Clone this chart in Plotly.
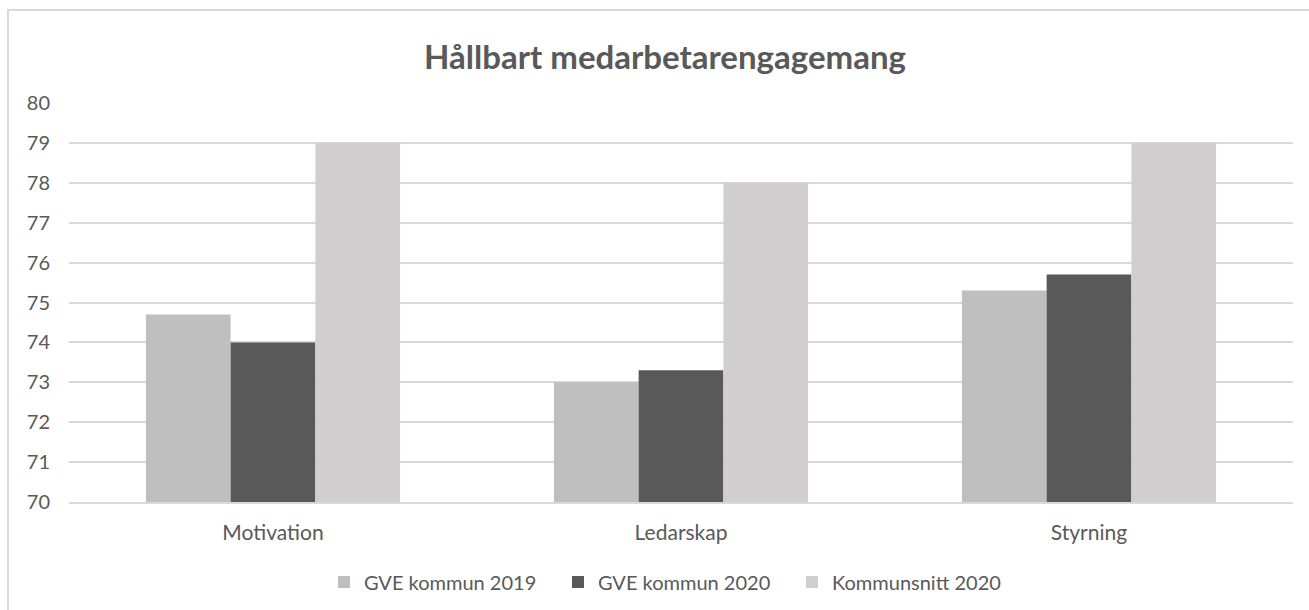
import plotly.graph_objects as go

categories = ["Motivation", "Ledarskap", "Styrning"]
series_names = ["GVE kommun 2019", "GVE kommun 2020", "Kommunsnitt 2020"]
gve_2019 = [74.7, 73.0, 75.3]
gve_2020 = [74.0, 73.3, 75.7]
kommunsnitt_2020 = [79.0, 78.0, 79.0]
y_ticks = list(range(70, 81))

colors = ["#bfbfbf", "#595959", "#d0cece"]
font_family = "Lato, Open Sans, sans-serif"
text_color = "#595959"

fig = go.Figure()
for name, vals, col in zip(series_names, [gve_2019, gve_2020, kommunsnitt_2020], colors):
    fig.add_trace(go.Bar(
        x=categories, y=vals, name=name,
        marker=dict(color=col, line=dict(width=0)),
        base=0,
    ))

W, H = 1309, 610
L, R, T, B = 69, 16, 103, 108
pw, ph = W - L - R, H - T - B

def px_x(p):
    return (p - L) / pw

def px_y(p):
    return (H - B - p) / ph

# outer chart frame (top and left edges visible)
fig.add_shape(type="rect", xref="paper", yref="paper",
              x0=px_x(8), x1=px_x(1330), y0=px_y(640), y1=px_y(10),
              line=dict(color="#d9d9d9", width=2), fillcolor="rgba(0,0,0,0)", layer="below")

fig.update_layout(
    width=W, height=H,
    margin=dict(l=L, r=R, t=T, b=B, autoexpand=False),
    paper_bgcolor="white", plot_bgcolor="white",
    barmode="group", bargap=0.377, bargroupgap=0,
    title=dict(text="<b>Hållbart medarbetarengagemang</b>", x=665 / W, xanchor="center",
               y=1 - 57 / H, yanchor="middle",
               font=dict(family=font_family, size=33, color=text_color)),
    font=dict(family=font_family, size=20, color=text_color),
    xaxis=dict(showgrid=False, showline=True, linecolor="#d9d9d9", linewidth=2,
               ticks="", ticklabelstandoff=11,
               tickfont=dict(size=21, color=text_color)),
    yaxis=dict(range=[70, 80], tickvals=y_ticks, showgrid=True, gridcolor="#d9d9d9",
               gridwidth=1.5, zeroline=False, showline=False, ticks="",
               ticklabelstandoff=18,
               tickfont=dict(size=20, color=text_color)),
    legend=dict(orientation="h", x=px_x(324), xanchor="left", y=px_y(582), yanchor="middle",
                font=dict(size=20, color=text_color), itemwidth=30, traceorder="normal",
                entrywidth=189, entrywidthmode="pixels"),
)

fig.write_html("out.html")
